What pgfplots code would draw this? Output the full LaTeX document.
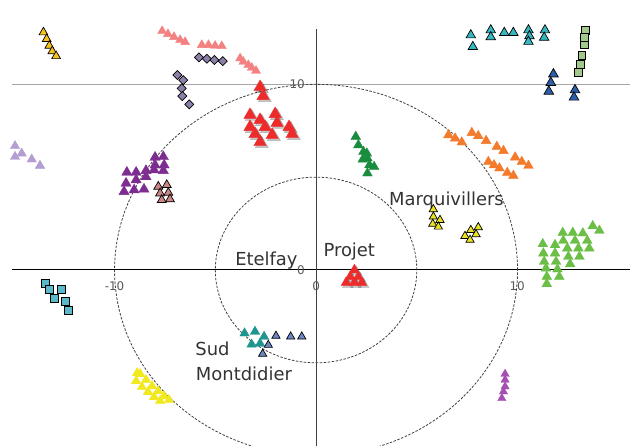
\documentclass[border=0pt]{standalone}
\usepackage{pgfplots}
\pgfplotsset{compat=1.18}
\usepackage{fontspec}
\setmainfont{DejaVu Sans}
\definecolor{cGold}{HTML}{F5C21B}
\definecolor{cLilac}{HTML}{B39DD1}
\definecolor{cSalmon}{HTML}{F38181}
\definecolor{cDiam}{HTML}{8D80A8}
\definecolor{cRed}{HTML}{EE2B2B}
\definecolor{cTealB}{HTML}{36B6BF}
\definecolor{cSqG}{HTML}{A2C98B}
\definecolor{cDBlue}{HTML}{2E5DA9}
\definecolor{cLBlue}{HTML}{3AB7EC}
\definecolor{cDGreen}{HTML}{1A8C3D}
\definecolor{cOrange}{HTML}{F47A2C}
\definecolor{cYelB}{HTML}{E9E124}
\definecolor{cGreen}{HTML}{6BBE46}
\definecolor{cPurple}{HTML}{7D2C8F}
\definecolor{cRosy}{HTML}{CC8585}
\definecolor{cSqT}{HTML}{5BB9CB}
\definecolor{cTeal}{HTML}{1E958F}
\definecolor{cSlate}{HTML}{6C87C2}
\definecolor{cYel}{HTML}{F2E81E}
\definecolor{cMag}{HTML}{A54FB2}
\definecolor{cTxt}{HTML}{333333}
\pgfplotsset{
  tri/.style n args={2}{only marks, mark=triangle*, mark size=#2, mark options={fill=#1, draw=#1, line width=0.3bp}},
  trib/.style n args={2}{only marks, mark=triangle*, mark size=#2, mark options={fill=#1, draw=black, line width=0.7bp}},
}
\begin{document}
\begin{tikzpicture}
\useasboundingbox (0,0) rectangle (630bp,446bp);
\begin{axis}[at={(12bp,0bp)}, anchor=south west, scale only axis,
  width=618bp, height=417bp,
  xmin=-15.09, xmax=15.58, ymin=-9.48, ymax=12.98,
  axis line style={draw=none}, xtick=\empty, ytick=\empty, clip=true]
% grid / axes / circles
\draw[black!35, line width=0.9bp] (axis cs:-15.09,10) -- (axis cs:15.58,10);
\draw[black, line width=1bp] (axis cs:-15.09,0) -- (axis cs:15.58,0);
\draw[black!75, line width=1bp] (axis cs:0,-9.48) -- (axis cs:0,12.98);
\draw[black!75, line width=0.8bp, dash pattern=on 2.5bp off 1.5bp] (axis cs:0,0) ellipse [x radius=5, y radius=5];
\draw[black!75, line width=0.8bp, dash pattern=on 2.5bp off 1.5bp] (axis cs:0,0) ellipse [x radius=10, y radius=10];
% goldenrod
\addplot[trib={cGold}{5.1}] coordinates {(-13.53,12.80) (-13.37,12.44) (-13.24,12.08) (-13.09,11.78) (-12.90,11.52)};
% lilac
\addplot[tri={cLilac}{5.5}] coordinates {(-14.94,6.68) (-14.94,6.10) (-14.61,6.28) (-14.11,5.96) (-13.70,5.62)};
% salmon
\addplot[tri={cSalmon}{5.3}] coordinates {(-7.64,12.87) (-7.35,12.71) (-7.05,12.55) (-6.75,12.39) (-6.50,12.28)
 (-5.67,12.12) (-5.34,12.12) (-5.01,12.08) (-4.68,12.06)
 (-3.77,11.40) (-3.61,11.22) (-3.36,11.04) (-3.19,10.89) (-2.98,10.73)};
% diamonds
\addplot[only marks, mark=square*, mark size=3.2, mark options={rotate=45, fill=cDiam, draw=black, line width=0.7bp}] coordinates {
 (-5.81,11.45) (-5.42,11.38) (-5.05,11.31) (-4.63,11.25)
 (-6.88,10.50) (-6.59,10.23) (-6.67,9.78) (-6.64,9.37) (-6.29,8.92)};
% red cluster (shadow + marks)
\addplot[only marks, mark=triangle*, mark size=7.6, mark options={fill=black, draw=black, opacity=0.22, xshift=1.8bp, yshift=-1.8bp}] coordinates {
 (-2.78,9.85) (-2.63,9.37) (-3.28,8.35) (-2.78,8.08) (-2.53,7.70) (-2.03,8.40) (-1.94,7.92)
 (-3.28,7.70) (-3.03,7.32) (-2.18,7.27) (-2.78,6.89) (-1.34,7.70) (-1.19,7.32)};
\addplot[tri={cRed}{7.2}] coordinates {
 (-2.78,9.85) (-2.63,9.37) (-3.28,8.35) (-2.78,8.08) (-2.53,7.70) (-2.03,8.40) (-1.94,7.92)
 (-3.28,7.70) (-3.03,7.32) (-2.18,7.27) (-2.78,6.89) (-1.34,7.70) (-1.19,7.32)};
% teal bordered
\addplot[trib={cTealB}{5.5}] coordinates {(7.15,13.25) (7.68,12.65) (7.78,12.02) (8.67,12.92) (8.67,12.55)
 (9.34,12.78) (9.79,12.78) (10.54,12.92) (10.59,12.60) (10.54,12.30) (11.36,12.92) (11.32,12.52)};
% light green squares
\addplot[only marks, mark=square*, mark size=3.9, mark options={fill=cSqG, draw=black, line width=0.7bp}] coordinates {
 (13.35,12.92) (13.32,12.53) (13.32,12.12) (13.19,11.58) (13.10,11.09) (13.02,10.65)};
% dark blue
\addplot[trib={cDBlue}{5.6}] coordinates {(11.78,10.55) (11.65,10.09) (11.55,9.62) (12.85,9.69) (12.80,9.30)};
% light blue
\addplot[tri={cLBlue}{5.7}] coordinates {(15.6,6.73) (15.6,6.32)};
% dark green
\addplot[tri={cDGreen}{5.7}] coordinates {(1.97,7.18) (2.10,6.73) (2.35,6.37) (2.52,6.28) (2.32,5.96)
 (2.55,6.02) (2.65,5.65) (2.88,5.56) (2.55,5.21)};
% orange
\addplot[tri={cOrange}{5.7}] coordinates {(6.57,7.27) (6.90,7.09) (7.23,6.88) (7.73,7.39) (8.05,7.22)
 (8.44,6.96) (8.97,6.64) (9.30,6.42) (9.88,6.07) (10.21,5.83) (10.54,5.62)
 (8.55,5.83) (8.83,5.65) (9.10,5.48) (9.49,5.24) (9.79,5.08)};
% yellow bordered
\addplot[trib={cYelB}{4.8}] coordinates {(5.82,3.27) (5.82,2.87) (6.15,2.69) (5.79,2.48) (6.07,2.33)
 (8.05,2.30) (7.68,2.15) (7.94,1.92) (7.39,1.83) (7.64,1.62)};
% green
\addplot[tri={cGreen}{5.7}] coordinates {(11.25,1.40) (11.28,0.90) (11.32,0.45) (11.41,0.09) (11.45,-0.36) (11.45,-0.75)
 (11.86,1.35) (11.86,0.90) (11.91,0.45) (11.98,0.04) (12.07,-0.36)
 (12.24,2.01) (12.27,1.58) (12.47,1.17) (12.52,0.72) (12.61,0.32)
 (12.74,2.01) (12.85,1.58) (13.02,1.17) (13.07,0.72)
 (13.24,1.98) (13.46,1.58) (13.56,1.17) (13.73,2.37) (14.06,2.12)};
% purple
\addplot[tri={cPurple}{6}] coordinates {(-9.39,5.26) (-8.93,5.26) (-8.44,5.35) (-7.99,6.07) (-7.58,6.10)
 (-7.99,5.65) (-7.54,5.65) (-8.04,5.39) (-7.58,5.35) (-9.43,4.67) (-8.93,4.85) (-8.44,5.02)
 (-9.53,4.22) (-9.03,4.31) (-8.54,4.35)};
% rosy brown
\addplot[trib={cRosy}{5.2}] coordinates {(-7.83,4.49) (-7.41,4.58) (-7.74,4.13) (-7.33,4.16) (-7.66,3.77) (-7.25,3.81)};
% teal squares
\addplot[only marks, mark=square*, mark size=4, mark options={fill=cSqT, draw=black, line width=0.7bp}] coordinates {
 (-13.45,-0.72) (-13.24,-1.04) (-12.62,-1.02) (-13.00,-1.52) (-12.46,-1.71) (-12.29,-2.15)};
% teal triangles
\addplot[tri={cTeal}{5.6}] coordinates {(-3.55,-3.41) (-3.03,-3.32) (-2.58,-3.59) (-3.20,-4.01) (-2.78,-3.96)};
% slate blue
\addplot[trib={cSlate}{4.8}] coordinates {(-1.99,-3.55) (-1.26,-3.59) (-0.71,-3.59) (-2.37,-4.04) (-2.65,-4.52)};
% yellow band
\addplot[tri={cYel}{5.6}] coordinates {(-8.88,-5.55) (-8.73,-5.60) (-8.44,-5.92) (-8.14,-6.25) (-7.84,-6.52) (-7.54,-6.79) (-7.30,-7.00)
 (-8.93,-5.98) (-8.64,-6.30) (-8.34,-6.57) (-8.04,-6.84) (-7.74,-7.05)};
% magenta column
\addplot[tri={cMag}{4.9}] coordinates {(9.38,-5.60) (9.38,-5.92) (9.38,-6.28) (9.30,-6.55) (9.22,-6.91)};
% Projet
\addplot[only marks, mark=triangle*, mark size=6.2, mark options={fill=black, draw=black, opacity=0.22, xshift=1.8bp, yshift=-1.8bp}] coordinates {
 (1.90,0.00) (1.69,-0.36) (2.10,-0.36) (1.49,-0.68) (1.89,-0.68) (2.27,-0.68)};
\addplot[tri={cRed}{5.8}] coordinates {(1.90,0.00) (1.69,-0.36) (2.10,-0.36) (1.49,-0.68) (1.89,-0.68) (2.27,-0.68)};
% tick labels
\node[anchor=east, inner sep=0, text=black!65, font=\fontsize{12}{14}\selectfont] at (axis cs:-0.55,10) {10};
\node[anchor=east, inner sep=0, text=black!65, font=\fontsize{12}{14}\selectfont] at (axis cs:-0.55,0) {0};
\node[anchor=north, inner sep=0, text=black!65, font=\fontsize{12}{14}\selectfont] at (axis cs:-10,-0.6) {-10};
\node[anchor=north, inner sep=0, text=black!65, font=\fontsize{12}{14}\selectfont] at (axis cs:0,-0.6) {0};
\node[anchor=north, inner sep=0, text=black!65, font=\fontsize{12}{14}\selectfont] at (axis cs:9.98,-0.6) {10};
% place labels
\node[anchor=base west, inner sep=0, text=cTxt, font=\fontsize{18}{20}\selectfont] at (axis cs:-4.02,0.215) {Etelfay};
\node[anchor=base west, inner sep=0, text=cTxt, font=\fontsize{18}{20}\selectfont] at (axis cs:0.36,0.72) {Projet};
\node[anchor=base west, inner sep=0, text=cTxt, font=\fontsize{18}{20}\selectfont] at (axis cs:3.62,3.45) {Marquivillers};
\node[anchor=base west, inner sep=0, text=cTxt, font=\fontsize{18}{20}\selectfont] at (axis cs:-6.00,-4.58) {Sud};
\node[anchor=base west, inner sep=0, text=cTxt, font=\fontsize{18}{20}\selectfont] at (axis cs:-5.97,-5.96) {Montdidier};
\end{axis}
\end{tikzpicture}
\end{document}
